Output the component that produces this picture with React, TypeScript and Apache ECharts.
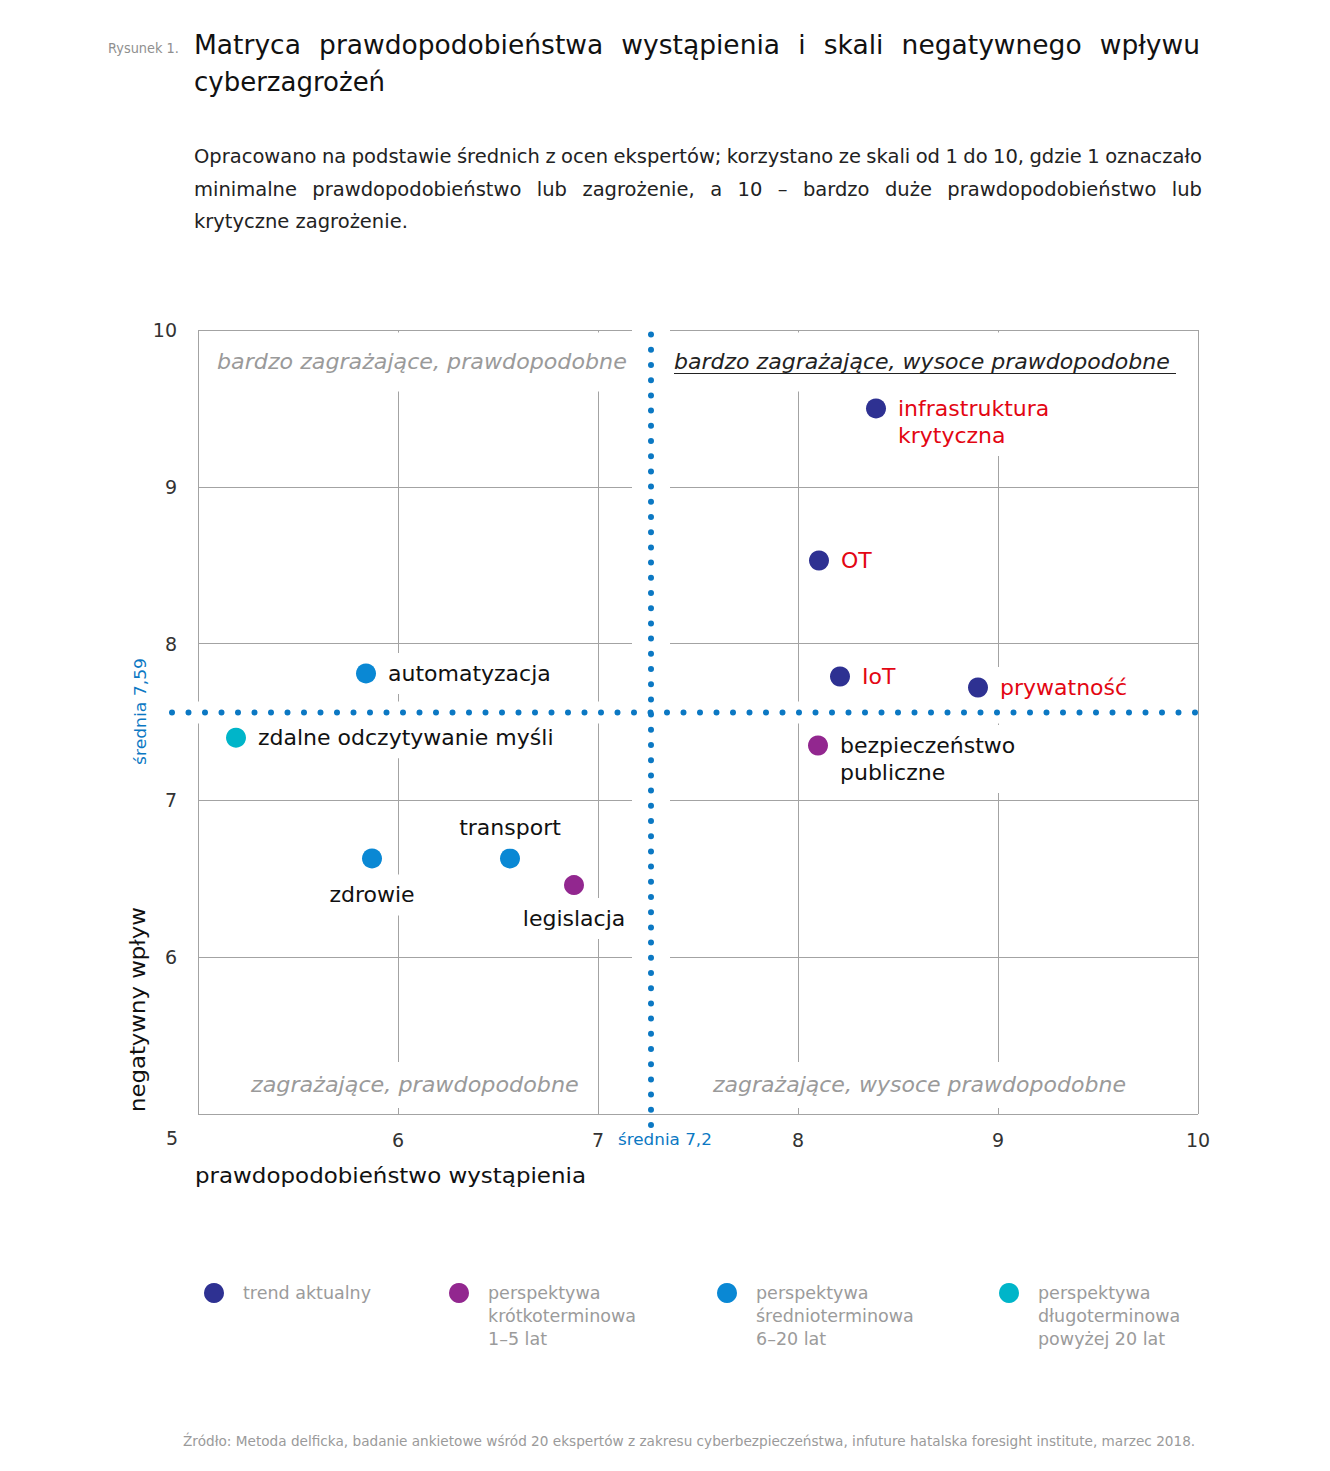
import React, { useEffect, useRef } from 'react';
import * as echarts from 'echarts';

// ---------- DATA ----------
const SERIES_NAMES = [
  'trend aktualny',
  'perspektywa\nkrótkoterminowa\n1–5 lat',
  'perspektywa\nśrednioterminowa\n6–20 lat',
  'perspektywa\ndługoterminowa\npowyżej 20 lat',
];
const SERIES_COLORS = ['#2e3192', '#92278f', '#0a88d4', '#00b5c9'];

const trendNames = ['infrastruktura\nkrytyczna', 'OT', 'IoT', 'prywatność'];
const trendX = [8.39, 8.105, 8.21, 8.9];
const trendY = [9.5, 8.53, 7.79, 7.72];

const shortNames = ['bezpieczeństwo\npubliczne', 'legislacja'];
const shortX = [8.1, 6.88];
const shortY = [7.35, 6.46];

const midNames = ['automatyzacja', 'zdrowie', 'transport'];
const midX = [5.84, 5.87, 6.56];
const midY = [7.81, 6.63, 6.63];

const longNames = ['zdalne odczytywanie myśli'];
const longX = [5.19];
const longY = [7.4];

const MEAN_X = 7.265; // drawn position of "średnia 7,2"
const MEAN_Y = 7.56; // drawn position of "średnia 7,59"
const MEAN_X_LABEL = 'średnia 7,2';
const MEAN_Y_LABEL = 'średnia 7,59';

const X_MIN = 5, X_MAX = 10, Y_MIN = 5, Y_MAX = 10;

const TITLE_LINES = [
  'Matryca prawdopodobieństwa wystąpienia i skali negatywnego wpływu',
  'cyberzagrożeń',
];
const SUB_LINES = [
  'Opracowano na podstawie średnich z ocen ekspertów; korzystano ze skali od 1 do 10, gdzie 1 oznaczało',
  'minimalne prawdopodobieństwo lub zagrożenie, a 10 – bardzo duże prawdopodobieństwo lub',
  'krytyczne zagrożenie.',
];
const QUADRANT_LABELS = [
  'bardzo zagrażające, prawdopodobne',
  'bardzo zagrażające, wysoce prawdopodobne',
  'zagrażające, prawdopodobne',
  'zagrażające, wysoce prawdopodobne',
];
const X_AXIS_TITLE = 'prawdopodobieństwo wystąpienia';
const Y_AXIS_TITLE = 'negatywny wpływ';
const FIGURE_LABEL = 'Rysunek 1.';
const SOURCE =
  'Źródło: Metoda delficka, badanie ankietowe wśród 20 ekspertów z zakresu cyberbezpieczeństwa, infuture hatalska foresight institute, marzec 2018.';

// ---------- STYLE ----------
const FONT = '"DejaVu Sans", "Open Sans", sans-serif';
const RED = '#e30613';
const BLACK = '#111111';
const GRAY = '#9a9a9a';
const BLUE_MEAN = '#0b78c3';

let ctx: CanvasRenderingContext2D | null = null;
function measure(text: string, size: number, style = 'normal', weight = 'normal') {
  if (!ctx) ctx = document.createElement('canvas').getContext('2d');
  ctx!.font = `${style} ${weight} ${size}px ${FONT}`;
  return ctx!.measureText(text).width;
}

function lineEls(line: string, x0: number, x1: number, y: number, size: number, color: string, justify: boolean) {
  const words = line.split(' ');
  const base = { fontSize: size, fontFamily: FONT, fill: color, verticalAlign: 'middle', align: 'left' };
  if (!justify || words.length < 2) {
    return [{ type: 'text', x: x0, y, style: { ...base, text: line } }];
  }
  const widths = words.map((w) => measure(w, size));
  const total = widths.reduce((a, b) => a + b, 0);
  const minGap = measure(' ', size) * 0.7;
  const W = x1 - x0;
  const s = Math.min(1, (W - minGap * (words.length - 1)) / total);
  const gap = (W - total * s) / (words.length - 1);
  let x = x0;
  return words.map((w, i) => {
    const el = { type: 'text', x, y, scaleX: s, style: { ...base, text: w } };
    x += widths[i] * s + gap;
    return el;
  });
}

function fitted(text: string, x: number, y: number, size: number, width: number, color: string, extra: any = {}, elExtra: any = {}) {
  const w = measure(text, size, extra.fontStyle || 'normal');
  return {
    type: 'text',
    x,
    y,
    scaleX: width / w,
    ...elExtra,
    style: { text, fontSize: size, fontFamily: FONT, fill: color, verticalAlign: 'middle', align: 'left', ...extra },
  };
}

const LABEL_PLACEMENT: Record<string, any> = {
  'infrastruktura\nkrytyczna': { position: 'right', distance: 8, offset: [0, 13.5] },
  OT: { position: 'right', distance: 8 },
  IoT: { position: 'right', distance: 8 },
  'prywatność': { position: 'right', distance: 8 },
  'bezpieczeństwo\npubliczne': { position: 'right', distance: 8, offset: [0, 13.5] },
  legislacja: { position: 'bottom', distance: 3 },
  automatyzacja: { position: 'right', distance: 8 },
  zdrowie: { position: 'bottom', distance: 6 },
  transport: { position: 'top', distance: 0 },
  'zdalne odczytywanie myśli': { position: 'right', distance: 8 },
};

function buildData(names: string[], xs: number[], ys: number[], labelColor: string) {
  return names.map((n, i) => ({
    name: n,
    value: [xs[i], ys[i]],
    label: { ...(LABEL_PLACEMENT[n] || {}), color: labelColor },
  }));
}

export default function App() {
  const ref = useRef<HTMLDivElement>(null);

  useEffect(() => {
    if (!ref.current) return;
    const chart = echarts.init(ref.current, null, { renderer: 'svg' });

    const groups = [
      buildData(trendNames, trendX, trendY, RED),
      buildData(shortNames, shortX, shortY, BLACK),
      buildData(midNames, midX, midY, BLACK),
      buildData(longNames, longX, longY, BLACK),
    ];

    const scatterSeries = groups.map((data, i) => ({
      name: SERIES_NAMES[i],
      type: 'scatter',
      z: 4,
      symbol: 'circle',
      symbolSize: 20,
      itemStyle: { color: SERIES_COLORS[i], opacity: 1 },
      label: {
        show: true,
        formatter: (p: any) => p.name,
        fontSize: 22,
        fontFamily: FONT,
        lineHeight: 27,
        backgroundColor: '#ffffff',
        padding: [7, 4],
      },
      emphasis: { disabled: true },
      data,
    }));

    const graphics: any[] = [];
    graphics.push(fitted(FIGURE_LABEL, 108, 48, 14, 71, '#8f8f8f'));
    graphics.push(...lineEls(TITLE_LINES[0], 194, 1200, 44, 26.5, BLACK, true));
    graphics.push(...lineEls(TITLE_LINES[1], 194, 1200, 82, 26, BLACK, false));
    const subY = [156, 189, 221];
    SUB_LINES.forEach((l, i) => graphics.push(...lineEls(l, 194, 1202, subY[i], 19.5, '#222', i < 2)));

    // quadrant labels
    const q = { fontStyle: 'italic', backgroundColor: '#fff' };
    graphics.push(fitted(QUADRANT_LABELS[0], 217, 362, 21, 410, GRAY, { ...q, padding: [10, 0, 28, 0] }, { z: 3 }));
    graphics.push(fitted(QUADRANT_LABELS[1], 674, 362, 21, 496, '#222', { ...q, padding: [10, 0, 28, 0] }, { z: 3 }));
    graphics.push({ type: 'line', z: 4, shape: { x1: 674, y1: 373.5, x2: 1176, y2: 373.5 }, style: { stroke: '#222', lineWidth: 1.2 } });
    graphics.push(fitted(QUADRANT_LABELS[2], 251, 1085, 21, 328, GRAY, { ...q, padding: [15, 0, 10, 0] }, { z: 3 }));
    graphics.push(fitted(QUADRANT_LABELS[3], 713, 1085, 21, 413, GRAY, { ...q, padding: [15, 0, 10, 0] }, { z: 3 }));

    // corner "5"
    graphics.push({ type: 'text', x: 172, y: 1138, style: { text: '5', fontSize: 19, fontFamily: FONT, fill: '#333', align: 'center', verticalAlign: 'middle' } });

    // mean labels
    graphics.push(fitted(MEAN_Y_LABEL, 141, 765, 16, 107, BLUE_MEAN, {}, { rotation: Math.PI / 2 }));
    graphics.push(fitted(MEAN_X_LABEL, 618, 1140, 16, 94, BLUE_MEAN));

    // axis titles
    graphics.push(fitted(X_AXIS_TITLE, 195, 1176, 21, 391, BLACK));
    graphics.push(fitted(Y_AXIS_TITLE, 138, 1112, 21, 205, BLACK, {}, { rotation: Math.PI / 2 }));

    // source
    graphics.push(fitted(SOURCE, 183, 1441, 14.5, 1013, '#9a9a9a'));

    const legendLefts = [204, 449, 717, 999];

    const meanLines = [
      [MEAN_X, Y_MIN - 0.07, MEAN_X, Y_MAX - 0.02, 15.2],
      [X_MIN - 0.13, MEAN_Y, X_MAX, MEAN_Y, 16.5],
    ];

    const option: any = {
      animation: false,
      backgroundColor: '#ffffff',
      grid: { left: 198, right: 132, top: 330, bottom: 357, containLabel: false },
      xAxis: {
        type: 'value',
        min: X_MIN,
        max: X_MAX,
        interval: 1,
        axisLine: { show: false },
        axisTick: { show: false },
        splitLine: { show: true, lineStyle: { color: '#a3a3a3', width: 1 } },
        axisLabel: {
          formatter: (v: number) => (v === X_MIN ? '' : String(v)),
          fontSize: 19,
          color: '#333',
          fontFamily: FONT,
          margin: 16,
        },
      },
      yAxis: {
        type: 'value',
        min: Y_MIN,
        max: Y_MAX,
        interval: 1,
        axisLine: { show: false },
        axisTick: { show: false },
        splitLine: { show: true, lineStyle: { color: '#a3a3a3', width: 1 } },
        axisLabel: {
          formatter: (v: number) => (v === Y_MIN ? '' : String(v)),
          fontSize: 19,
          color: '#333',
          fontFamily: FONT,
          margin: 21,
        },
      },
      legend: SERIES_NAMES.map((name, i) => {
        const lines = name.split('\n').length;
        const extra = lines - 1;
        const totalLines = lines + extra;
        return {
          data: [{ name, icon: 'circle' }],
          left: legendLefts[i],
          top: 1293 - (totalLines * 23) / 2,
          padding: 0,
          itemWidth: 20,
          itemHeight: 20,
          selectedMode: false,
          formatter: (n: string) => '\n'.repeat(extra) + n,
          textStyle: {
            fontSize: 17.5,
            color: '#9b9b9b',
            fontFamily: FONT,
            lineHeight: 23,
            padding: [0, 0, 0, 14],
          },
        };
      }),
      graphic: { elements: graphics },
      series: [
        {
          name: 'bands',
          type: 'line',
          z: 1,
          data: [],
          silent: true,
          markArea: {
            silent: true,
            itemStyle: { color: '#ffffff', opacity: 1 },
            data: [
              [
                { xAxis: MEAN_X - 0.095, yAxis: Y_MIN - 0.02 },
                { xAxis: MEAN_X + 0.095, yAxis: Y_MAX + 0.02 },
              ],
              [
                { xAxis: X_MIN - 0.02, yAxis: MEAN_Y - 0.07 },
                { xAxis: X_MAX + 0.02, yAxis: MEAN_Y + 0.07 },
              ],
            ],
          },
        },
        ...scatterSeries,
        {
          name: 'means',
          type: 'custom',
          z: 10,
          silent: true,
          clip: false,
          encode: { x: [0, 2], y: [1, 3] },
          data: meanLines,
          renderItem: (params: any, api: any) => {
            const p1 = api.coord([api.value(0), api.value(1)]);
            const p2 = api.coord([api.value(2), api.value(3)]);
            return {
              type: 'line',
              shape: { x1: p1[0], y1: p1[1], x2: p2[0], y2: p2[1] },
              style: {
                stroke: BLUE_MEAN,
                lineWidth: 6,
                lineDash: [0, api.value(4)],
                lineCap: 'round',
                fill: null,
              },
            };
          },
        },
      ],
    };

    chart.setOption(option);
    return () => chart.dispose();
  }, []);

  return (
    <div
      ref={ref}
      style={{ position: 'absolute', left: 0, top: 0, width: 1330, height: 1471, background: '#fff' }}
    />
  );
}
